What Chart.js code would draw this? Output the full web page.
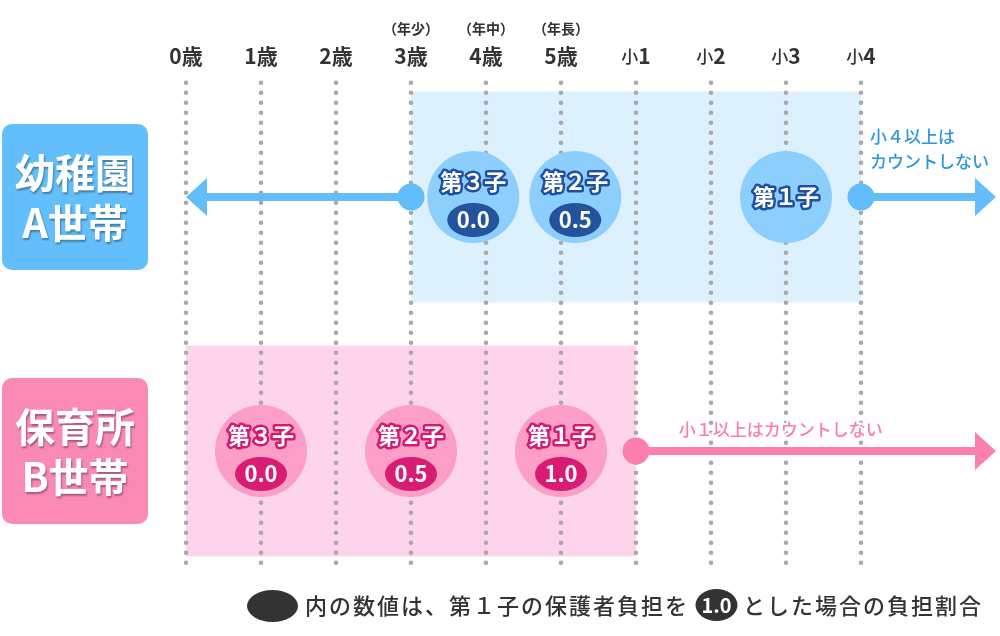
<!DOCTYPE html>
<html lang="ja">
<head>
<meta charset="utf-8">
<script src="https://cdn.jsdelivr.net/npm/chart.js@4.4.0/dist/chart.umd.min.js"></script>
<style>
  html, body { margin: 0; padding: 0; background: #fff; }
  #wrap { width: 1000px; height: 636px; }
</style>
</head>
<body>
<div id="wrap"><canvas id="chartCanvas" width="1000" height="636"></canvas></div>
<script>
// 年齢の目盛り
const ageLabels = ['0歳', '1歳', '2歳', '3歳', '4歳', '5歳', '小1', '小2', '小3', '小4'];
const ageNotes = ['', '', '', '（年少）', '（年中）', '（年長）', '', '', '', ''];

// 世帯 (行 1 = A, 行 2 = B)
const householdNames = [['幼稚園', 'A世帯'], ['保育所', 'B世帯']];
const countFrom = [3, 0];   // カウント対象の範囲（年齢軸）
const countTo = [9, 6];

// A世帯の子ども
const childLabelsA = ['第３子', '第２子', '第１子'];
const childAgesA = [3.83, 5.19, 8];
const childShareA = ['0.0', '0.5', null];

// B世帯の子ども
const childLabelsB = ['第３子', '第２子', '第１子'];
const childAgesB = [1, 3, 5];
const childShareB = ['0.0', '0.5', '1.0'];

// 矢印 [開始, 先端]
const arrowsA = [[3, 0], [9, 10.8]];
const arrowsB = [[6, 10.8]];

const noteA = ['小４以上は', 'カウントしない'];
const noteB = '小１以上はカウントしない';
const legendText1 = '内の数値は、第１子の保護者負担を';
const legendValue = '1.0';
const legendText2 = 'とした場合の負担割合';

const FONT = '"Noto Sans CJK JP", "Noto Sans", sans-serif';
const theme = [
  { box: '#63bffc', rect: '#dcf0fe', arrow: '#62bdfa', bubble: '#8ccffc', dark: '#1f4f9e', pill: '#23539d' },
  { box: '#fa8ab4', rect: '#fdd4ea', arrow: '#fb80ad', bubble: '#fc9ec5', dark: '#d21a70', pill: '#d81b73' }
];

function px(chart, x) { return chart.scales.x.getPixelForValue(x); }
function py(chart, y) { return chart.scales.y.getPixelForValue(y); }

const backPlugin = {
  id: 'back',
  beforeDatasetsDraw(chart) {
    const ctx = chart.ctx;
    ctx.save();
    // 範囲の背景
    for (let r = 0; r < 2; r++) {
      const x0 = px(chart, countFrom[r]), x1 = px(chart, countTo[r]);
      const y0 = py(chart, r + 1 - 0.415), y1 = py(chart, r + 1 + 0.415);
      ctx.fillStyle = theme[r].rect;
      ctx.fillRect(x0, y0, x1 - x0, y1 - y0);
    }
    // 点線
    const top = py(chart, 0.55), bottom = py(chart, 2.465);
    ctx.fillStyle = '#a9a9a9';
    ageLabels.forEach((_, i) => {
      const x = px(chart, i);
      for (let y = top; y <= bottom; y += 10) {
        ctx.beginPath();
        ctx.arc(x, y, 2.3, 0, Math.PI * 2);
        ctx.fill();
      }
    });
    // 矢印
    [arrowsA, arrowsB].forEach((list, r) => {
      const y = py(chart, r + 1);
      ctx.fillStyle = theme[r].arrow;
      list.forEach(([from, to]) => {
        const xs = px(chart, from), xt = px(chart, to);
        const dir = Math.sign(xt - xs);
        const base = xt - dir * 21;
        ctx.fillRect(Math.min(xs, base), y - 4, Math.abs(base - xs), 8);
        ctx.beginPath();
        ctx.moveTo(xt, y);
        ctx.lineTo(base, y - 19);
        ctx.lineTo(base, y + 19);
        ctx.closePath();
        ctx.fill();
      });
    });
    ctx.restore();
  }
};

function outlined(ctx, text, x, y, stroke, lw) {
  ctx.lineJoin = 'round';
  ctx.strokeStyle = stroke;
  ctx.lineWidth = lw;
  ctx.strokeText(text, x, y);
  ctx.fillStyle = '#fff';
  ctx.fillText(text, x, y);
}

const textPlugin = {
  id: 'texts',
  afterDatasetsDraw(chart) {
    const ctx = chart.ctx;
    ctx.save();
    ctx.textBaseline = 'middle';

    // 年齢ラベル
    ageLabels.forEach((lab, i) => {
      const x = px(chart, i);
      ctx.fillStyle = '#333';
      if (lab.startsWith('小')) {
        ctx.font = '500 17px ' + FONT;
        const w1 = ctx.measureText('小').width;
        ctx.font = 'bold 21px ' + FONT;
        const w2 = ctx.measureText(lab.slice(1)).width;
        const x0 = x - (w1 + w2) / 2;
        ctx.textAlign = 'left';
        ctx.font = '500 17px ' + FONT;
        ctx.fillText('小', x0, 57);
        ctx.font = 'bold 21px ' + FONT;
        ctx.fillText(lab.slice(1), x0 + w1, 56);
      } else {
        ctx.textAlign = 'center';
        ctx.font = 'bold 21px ' + FONT;
        ctx.fillText(lab, x, 56);
      }
      if (ageNotes[i]) {
        ctx.textAlign = 'center';
        ctx.font = 'bold 14px ' + FONT;
        ctx.fillText(ageNotes[i], x, 29);
      }
    });

    // 世帯ボックス
    householdNames.forEach((names, r) => {
      const cy = py(chart, r + 1);
      const x0 = 2, w = 146, h = 146, y0 = cy - h / 2;
      ctx.fillStyle = theme[r].box;
      ctx.beginPath();
      ctx.roundRect(x0, y0, w, h, 10);
      ctx.fill();
      ctx.save();
      ctx.shadowColor = 'rgba(0,0,0,0.35)';
      ctx.shadowOffsetX = 1;
      ctx.shadowOffsetY = 2;
      ctx.shadowBlur = 2;
      ctx.fillStyle = '#fff';
      ctx.textAlign = 'center';
      ctx.font = 'bold 40px ' + FONT;
      ctx.fillText(names[0], x0 + w / 2, cy - 24);
      ctx.fillText(names[1], x0 + w / 2, cy + 26);
      ctx.restore();
    });

    // 子どもの円の中の文字
    [[childLabelsA, childAgesA, childShareA], [childLabelsB, childAgesB, childShareB]].forEach(([labels, ages, shares], r) => {
      const cy = py(chart, r + 1);
      labels.forEach((lab, i) => {
        const x = px(chart, ages[i]);
        ctx.textAlign = 'center';
        ctx.font = 'bold 22px ' + FONT;
        if (shares[i] === null) {
          outlined(ctx, lab, x, cy, theme[r].dark, 5);
          return;
        }
        outlined(ctx, lab, x, cy - 15, theme[r].dark, 5);
        ctx.fillStyle = theme[r].pill;
        ctx.beginPath();
        ctx.ellipse(x, cy + 23, 26, 17, 0, 0, Math.PI * 2);
        ctx.fill();
        ctx.fillStyle = '#fff';
        ctx.font = 'bold 22px ' + FONT;
        ctx.fillText(shares[i], x, cy + 23);
      });
    });

    // 注記
    const yA = py(chart, 1);
    ctx.fillStyle = '#2f97d8';
    ctx.textAlign = 'left';
    ctx.font = '500 17px ' + FONT;
    ctx.fillText(noteA[0], px(chart, countTo[0]) + 9, yA - 60);
    ctx.fillText(noteA[1], px(chart, countTo[0]) + 9, yA - 35);

    const yB = py(chart, 2);
    ctx.textAlign = 'center';
    ctx.font = '500 17px ' + FONT;
    ctx.lineJoin = 'round';
    ctx.strokeStyle = '#fff';
    ctx.lineWidth = 4;
    ctx.strokeText(noteB, px(chart, 7.93), yB - 21);
    ctx.fillStyle = '#f77fad';
    ctx.fillText(noteB, px(chart, 7.93), yB - 21);

    // 凡例
    const ly = 606;
    ctx.fillStyle = '#333';
    ctx.beginPath();
    ctx.ellipse(272.5, ly, 25.5, 16, 0, 0, Math.PI * 2);
    ctx.fill();
    ctx.textAlign = 'left';
    ctx.font = '500 22px ' + FONT;
    ctx.letterSpacing = '2px';
    ctx.fillText(legendText1, 305, ly);
    ctx.fillText(legendText2, 743, ly);
    ctx.letterSpacing = '0px';
    ctx.beginPath();
    ctx.ellipse(716.5, ly - 1, 21, 16, 0, 0, Math.PI * 2);
    ctx.fill();
    ctx.fillStyle = '#fff';
    ctx.textAlign = 'center';
    ctx.font = 'bold 20px ' + FONT;
    ctx.fillText(legendValue, 716.5, ly - 1);

    ctx.restore();
  }
};

function initChart() {
  const ctx = document.getElementById('chartCanvas').getContext('2d');
  new Chart(ctx, {
    type: 'scatter',
    data: {
      datasets: [
        {
          data: childAgesA.map(a => ({ x: a, y: 1 })),
          pointRadius: 46,
          backgroundColor: theme[0].bubble,
          borderWidth: 0
        },
        {
          data: childAgesB.map(a => ({ x: a, y: 2 })),
          pointRadius: 46,
          backgroundColor: theme[1].bubble,
          borderWidth: 0
        },
        {
          data: arrowsA.map(a => ({ x: a[0], y: 1 })),
          pointRadius: 13.5,
          backgroundColor: theme[0].arrow,
          borderWidth: 0
        },
        {
          data: arrowsB.map(a => ({ x: a[0], y: 2 })),
          pointRadius: 13.5,
          backgroundColor: theme[1].arrow,
          borderWidth: 0
        }
      ]
    },
    options: {
      responsive: false,
      animation: false,
      events: [],
      clip: false,
      layout: { padding: 0, autoPadding: false },
      plugins: { legend: { display: false }, tooltip: { enabled: false } },
      scales: {
        x: { type: 'linear', display: false, min: -186 / 75, max: 814 / 75 },
        y: { type: 'linear', display: false, reverse: true, min: 1 - 197 / 254, max: 1 + 439 / 254 }
      }
    },
    plugins: [backPlugin, textPlugin]
  });
}

document.addEventListener('DOMContentLoaded', initChart);
</script>
</body>
</html>
